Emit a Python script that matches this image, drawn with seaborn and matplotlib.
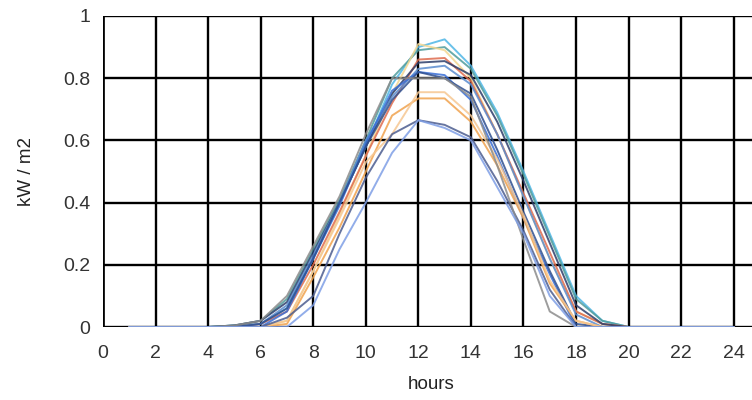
import pandas as pd
import matplotlib
matplotlib.use("Agg")
import matplotlib.pyplot as plt
import seaborn as sns

hours = list(range(1, 25))

# hourly irradiance profiles (kW/m2), one per day
cyan      = [0, 0, 0, 0, 0.005, 0.01, 0.06, 0.22, 0.40, 0.58, 0.78, 0.90, 0.925, 0.84, 0.69, 0.50, 0.30, 0.10, 0.02, 0, 0, 0, 0, 0]
teal      = [0, 0, 0, 0, 0.005, 0.02, 0.09, 0.25, 0.41, 0.60, 0.80, 0.89, 0.90, 0.83, 0.68, 0.49, 0.29, 0.09, 0.02, 0, 0, 0, 0, 0]
pale_yel  = [0, 0, 0, 0, 0, 0.0, 0.02, 0.18, 0.36, 0.55, 0.75, 0.91, 0.89, 0.80, 0.62, 0.42, 0.22, 0.05, 0.01, 0, 0, 0, 0, 0]
red       = [0, 0, 0, 0, 0, 0.01, 0.05, 0.20, 0.37, 0.55, 0.72, 0.86, 0.865, 0.79, 0.62, 0.43, 0.24, 0.05, 0.01, 0, 0, 0, 0, 0]
navy      = [0, 0, 0, 0, 0.005, 0.02, 0.08, 0.24, 0.40, 0.58, 0.75, 0.85, 0.855, 0.81, 0.66, 0.47, 0.27, 0.07, 0.01, 0, 0, 0, 0, 0]
steel     = [0, 0, 0, 0, 0, 0.01, 0.07, 0.23, 0.40, 0.60, 0.74, 0.83, 0.84, 0.78, 0.62, 0.42, 0.22, 0.04, 0, 0, 0, 0, 0, 0]
blue      = [0, 0, 0, 0, 0, 0.0, 0.05, 0.22, 0.39, 0.59, 0.76, 0.82, 0.81, 0.73, 0.55, 0.35, 0.17, 0.0, 0, 0, 0, 0, 0, 0]
dark_blue = [0, 0, 0, 0, 0, 0.01, 0.06, 0.22, 0.40, 0.58, 0.73, 0.82, 0.80, 0.75, 0.57, 0.37, 0.18, 0.01, 0, 0, 0, 0, 0, 0]
orange    = [0, 0, 0, 0, 0, 0.0, 0.01, 0.16, 0.32, 0.50, 0.68, 0.735, 0.735, 0.66, 0.52, 0.35, 0.14, 0.02, 0, 0, 0, 0, 0, 0]
pale_org  = [0, 0, 0, 0, 0, 0.0, 0.02, 0.18, 0.35, 0.53, 0.62, 0.755, 0.755, 0.68, 0.54, 0.36, 0.15, 0.02, 0, 0, 0, 0, 0, 0]
slate     = [0, 0, 0, 0, 0, 0.0, 0.03, 0.10, 0.30, 0.48, 0.62, 0.665, 0.65, 0.61, 0.47, 0.31, 0.12, 0.0, 0, 0, 0, 0, 0, 0]
gray      = [0, 0, 0, 0, 0.005, 0.02, 0.10, 0.26, 0.42, 0.62, 0.80, 0.80, 0.80, 0.74, 0.52, 0.28, 0.05, 0.0, 0, 0, 0, 0, 0, 0]
periwink  = [0, 0, 0, 0, 0, 0.0, 0.0, 0.07, 0.25, 0.40, 0.56, 0.665, 0.64, 0.60, 0.45, 0.30, 0.10, 0.0, 0, 0, 0, 0, 0, 0]

series = {
    "cyan": cyan, "teal": teal, "pale_yel": pale_yel, "red": red,
    "navy": navy, "steel": steel, "blue": blue, "dark_blue": dark_blue,
    "orange": orange, "pale_org": pale_org, "slate": slate, "gray": gray,
    "periwink": periwink,
}
colors = {
    "cyan": "#4fb6e6", "teal": "#4f9c9c", "pale_yel": "#f3d690", "red": "#de6b4e",
    "navy": "#2c3e6b", "steel": "#5a8ccf", "blue": "#3a6fd6", "dark_blue": "#2f4f8f",
    "orange": "#f0a24e", "pale_org": "#f6c792", "slate": "#4c5d90", "gray": "#8c8c8c",
    "periwink": "#7f9fe6",
}

df = pd.DataFrame(
    [(h, v, name) for name, vals in series.items() for h, v in zip(hours, vals)],
    columns=["hours", "kw", "day"],
)

sns.set_style("white")
plt.rcParams["font.family"] = ["Liberation Sans", "DejaVu Sans"]

fig = plt.figure(figsize=(7.52, 4.0), dpi=100)
ax = fig.add_axes([103 / 752, 73 / 400, 657 / 752, 311 / 400])

sns.lineplot(data=df, x="hours", y="kw", hue="day", palette=colors,
             linewidth=1.4, alpha=0.85, legend=False, ax=ax)

ax.set_xlim(0, 25)
ax.set_ylim(0, 1)
ax.set_xticks(range(0, 25, 2))
ax.set_yticks([0, 0.2, 0.4, 0.6, 0.8, 1])
ax.set_yticklabels(["0", "0.2", "0.4", "0.6", "0.8", "1"])
ax.grid(True, color="black", linewidth=1.7)
ax.set_axisbelow(True)
for s in ax.spines.values():
    s.set_visible(False)
ax.axhline(0, color="black", linewidth=1.9, zorder=0.5)
ax.axvline(0, color="black", linewidth=1.9, zorder=0.5)
ax.tick_params(axis="both", direction="out", length=6, width=1.5, color="black",
               labelsize=14, labelcolor="#333333", pad=3)
ax.tick_params(axis="x", pad=7)
ax.set_xlabel("hours", fontsize=13.5, color="#222222", labelpad=10)
ax.set_ylabel("kW / m2", fontsize=13.5, color="#222222", labelpad=20)

fig.savefig("out.png", dpi=100)
